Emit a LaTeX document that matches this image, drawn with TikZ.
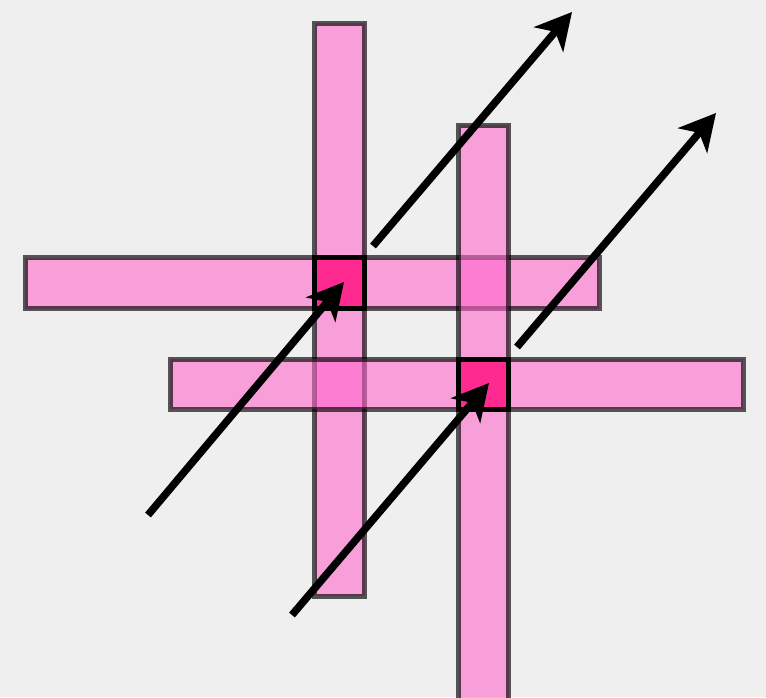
\documentclass[tikz,border=0pt]{standalone}
\usetikzlibrary{arrows.meta}
\definecolor{bgc}{HTML}{EFEFEF}
\definecolor{barpink}{HTML}{FF66CC}
\definecolor{sqpink}{HTML}{FF2A8F}
\begin{document}
\begin{tikzpicture}[x=1pt,y=-1pt,
  bar/.style={fill=barpink,fill opacity=0.58,draw=black,draw opacity=0.65,line width=5pt},
  cell/.style={fill=sqpink,draw=black,line width=5pt},
  ray/.style={line width=7.5pt,-{Stealth[length=36pt,width=38pt,inset=10pt]}}]
\fill[bgc] (0,0) rectangle (766,697);
\useasboundingbox (0,0) rectangle (766,697);
% bars
\path[bar] (314.5,23) rectangle (364.5,596);
\path[bar] (25,257.5) rectangle (599,308.5);
\path[bar] (458.5,125) rectangle (508.5,703);
\path[bar] (170,359) rectangle (743,409);
% intersection cells
\path[cell] (314.5,257.5) rectangle (364.5,308.5);
\path[cell] (458.5,359) rectangle (508.5,409);
% arrow endpoints
\coordinate (a1s) at (148,515); \coordinate (a1e) at (344,282);
\coordinate (a2s) at (373,246); \coordinate (a2e) at (572,12);
\coordinate (a3s) at (292,615); \coordinate (a3e) at (489,383);
\coordinate (a4s) at (517,347); \coordinate (a4e) at (716,113);
\draw[ray] (a1s) -- (a1e);
\draw[ray] (a2s) -- (a2e);
\draw[ray] (a3s) -- (a3e);
\draw[ray] (a4s) -- (a4e);
\end{tikzpicture}
\end{document}
